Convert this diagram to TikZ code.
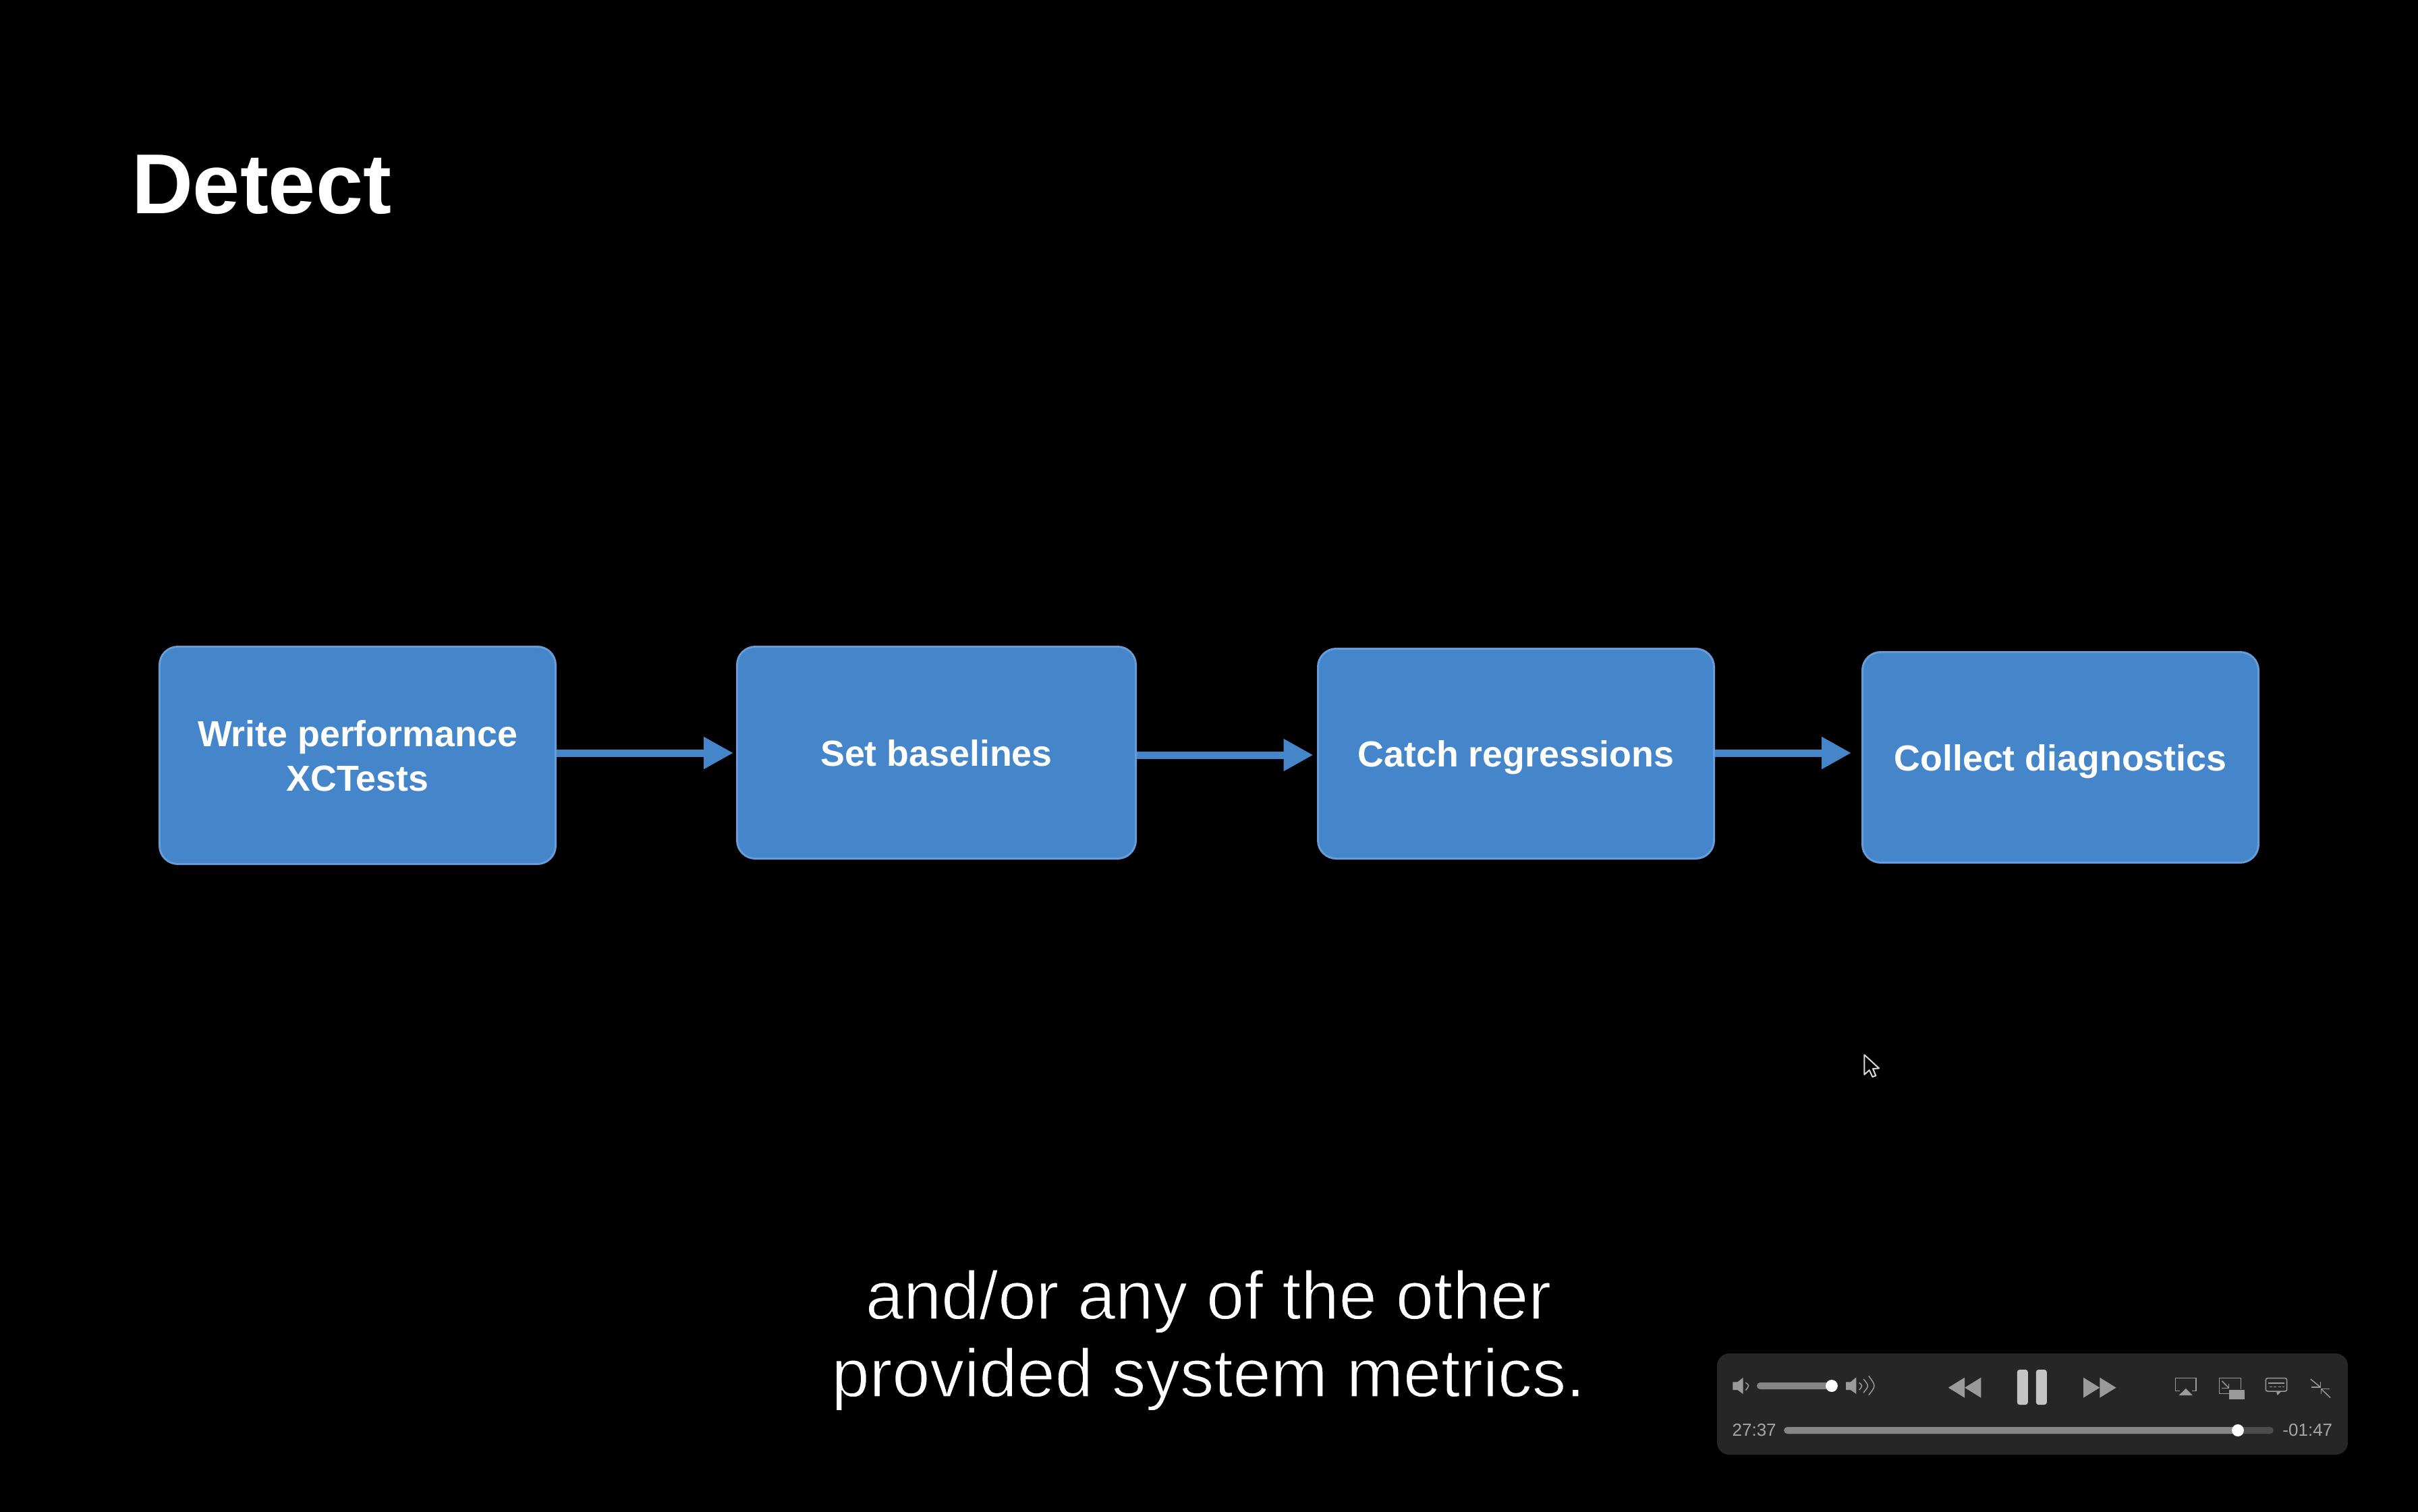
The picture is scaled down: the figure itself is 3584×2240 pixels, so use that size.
\documentclass[tikz,border=0pt]{standalone}
\usepackage{fontspec}
\setmainfont{Liberation Sans}
\usetikzlibrary{arrows.meta}
\definecolor{boxblue}{HTML}{4585C9}
\definecolor{boxedge}{HTML}{679CD8}
\definecolor{panelgrey}{HTML}{262626}
\definecolor{icongrey}{HTML}{9A9A9A}
\definecolor{pausegrey}{HTML}{C4C4C4}
\definecolor{trackgrey}{HTML}{868686}
\definecolor{tracktail}{HTML}{4C4C4C}
\definecolor{timegrey}{HTML}{A6A6A6}
\newcommand{\thinned}{\special{pdf:code 2 Tr 0.3 w 0 0 0 RG}}
\newcommand{\lbl}[1]{\raisebox{-1.4pt}[9pt][3.9pt]{#1}}
\tikzset{
  stepbox/.style={draw=boxedge,fill=boxblue,line width=0.6pt,rounded corners=5.4pt,inner sep=0pt,
    text=white,align=center,font=\fontsize{10.75}{13.2}\selectfont\bfseries},
  flow/.style={draw=boxblue,line width=2.2pt,-{Triangle[length=8.8pt,width=9pt]}},
  headline/.style={text=white,anchor=base west,inner sep=0pt,font=\fontsize{25.2}{30}\selectfont\bfseries},
  subtitle/.style={text=white,anchor=base,inner sep=0pt,font=\fontsize{20.2}{24}\selectfont},
  timelabel/.style={text=timegrey,inner sep=0pt,font=\fontsize{5.2}{6}\selectfont},
  glyph/.style={fill=icongrey,draw=none},
  glyphline/.style={draw=icongrey,line width=0.3pt,fill=none},
}
\begin{document}
\begin{tikzpicture}[x=0.2pt,y=-0.2pt]
\useasboundingbox (0,0) rectangle (3584,2240);
\fill[black] (-20,-20) rectangle (3604,2260);
\node[headline] (title) at (194,316) {Detect};
\node[stepbox,minimum width=117.4pt,minimum height=64.4pt] (b1) at (530,1119.5) {\lbl{Write performance}\\\lbl{XCTests}};
\node[stepbox,minimum width=118.2pt,minimum height=62.8pt] (b2) at (1388,1115.5) {\lbl{Set baselines}};
\node[stepbox,minimum width=117.4pt,minimum height=62.2pt] (b3) at (2247,1117) {\lbl{Catch regressions}};
\node[stepbox,minimum width=117.4pt,minimum height=62.4pt] (b4) at (3054,1122.5) {\lbl{Collect diagnostics}};
\coordinate (y1) at (0,1116);
\coordinate (y2) at (0,1119);
\coordinate (y3) at (0,1116);
\draw[flow,shorten >=0.8pt] (b1.east |- y1) -- (b2.west |- y1);
\draw[flow,shorten >=1.1pt] (b2.east |- y2) -- (b3.west |- y2);
\draw[flow,shorten >=3pt] (b3.east |- y3) -- (b4.west |- y3);
\node[subtitle] (s1) at (1791,1955) {\thinned and/or any of the other};
\node[subtitle] (s2) at (1791,2070) {\thinned provided system metrics.};
% cursor
\draw[white!85!black,line width=0.4pt,line join=round,shift={(2700,1540)},x=0.0667pt,y=-0.0667pt]
  (190,70) -- (190,158) -- (212,138) -- (226,168) -- (241,163) -- (228,132) -- (255,130) -- cycle;
% player
\fill[panelgrey,rounded corners=3.6pt] (2545,2006) rectangle (3480,2156);
\begin{scope}[shift={(2500,1980)},x=0.12755pt,y=-0.06667pt]
  % volume
  \fill[glyph] (107,205) -- (118,205) -- (131,186) -- (131,258) -- (118,240) -- (107,240) -- cycle;
  \draw[glyphline] (137,208) .. controls (146,220) .. (137,242);
  \fill[trackgrey,rounded corners=1pt] (163,207) rectangle (340,237);
  \fill[white] (337,222) circle[x radius=14,y radius=27];
  \fill[glyph] (370,205) -- (381,205) -- (394,184) -- (394,258) -- (381,240) -- (370,240) -- cycle;
  \draw[glyphline] (401,208) .. controls (409,222) .. (401,240);
  \draw[glyphline] (411,192) .. controls (424,222) .. (411,252);
  \draw[glyphline] (423,178) .. controls (440,222) .. (423,263);
  % transport
  \fill[glyph] (608,230) -- (646,185) -- (646,275) -- cycle;
  \fill[glyph] (646,230) -- (684,185) -- (684,275) -- cycle;
  \fill[pausegrey,rounded corners=0.7pt] (768,150) rectangle (793,306);
  \fill[pausegrey,rounded corners=0.7pt] (812,150) rectangle (837,306);
  \fill[glyph] (922,185) -- (960,230) -- (922,275) -- cycle;
  \fill[glyph] (960,185) -- (998,230) -- (960,275) -- cycle;
  % airplay
  \draw[glyphline] (1146,244) -- (1136,244) -- (1136,188) -- (1184,188) -- (1184,244) -- (1174,244);
  \fill[glyph] (1160,234) -- (1176,264) -- (1144,264) -- cycle;
  % picture in picture
  \draw[glyphline] (1260,256) -- (1238,256) -- (1238,188) -- (1288,188) -- (1288,238);
  \draw[glyphline] (1244,200) -- (1259,230);
  \draw[glyphline] (1244,232) -- (1260,232) -- (1260,214);
  \fill[glyph] (1261,240) rectangle (1296,282);
  % captions
  \draw[glyphline,rounded corners=0.5pt] (1346,188) rectangle (1395,246);
  \fill[glyph] (1370,246) -- (1382,246) -- (1373,264) -- cycle;
  \draw[glyphline] (1352,210) -- (1389,210);
  \draw[glyphline,dash pattern=on 0.8pt off 0.5pt] (1354,226) -- (1389,226);
  % shrink
  \draw[glyphline] (1450,192) -- (1473,228);
  \draw[glyphline] (1452,228) -- (1473,228) -- (1473,205);
  \draw[glyphline] (1496,275) -- (1475,236);
  \draw[glyphline] (1475,258) -- (1475,236) -- (1494,236);
  % progress
  \node[timelabel] (tl) at (157,420) {27:37};
  \fill[tracktail,rounded corners=1pt] (226,405) rectangle (1364,435);
  \fill[trackgrey,rounded corners=1pt] (226,405) rectangle (1280,435);
  \fill[white] (1281,420) circle[x radius=14,y radius=27];
  \node[timelabel] (tr) at (1443,420) {-01:47};
\end{scope}
\end{tikzpicture}
\end{document}
